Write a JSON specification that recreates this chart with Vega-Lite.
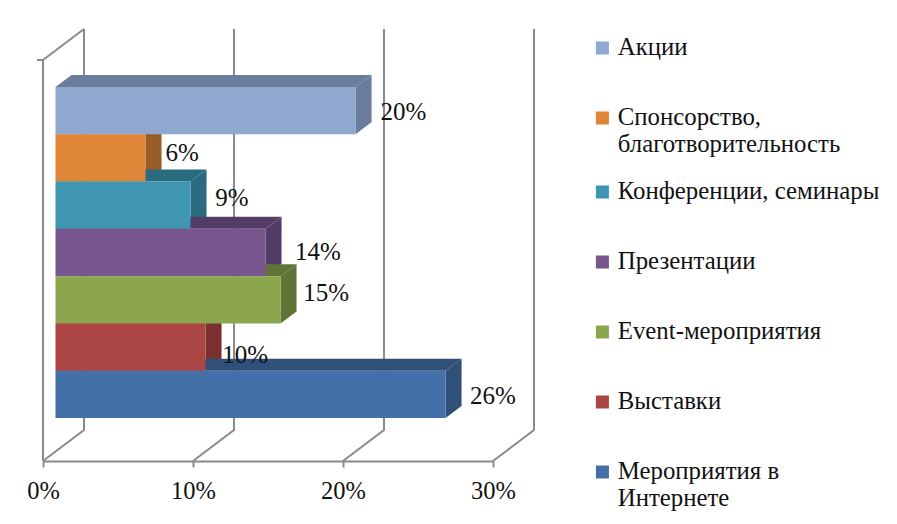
{
"$schema":"https://vega.github.io/schema/vega-lite/v6.json",
"width":450,"height":432,
"autosize":{"type":"none"},
"padding":{"left":43,"top":29,"right":404,"bottom":63},
"background":"white",
"config":{"view":{"stroke":null},"text":{"font":"Liberation Serif"}},
"datasets":{
"bars":[
{"category":"Акции","value":20,"slot":6,"slotEnd":7,"label":"20%","labelX":24.03,"labelY":6.47},
{"category":"Спонсорство, благотворительность","value":6,"slot":5,"slotEnd":6,"label":"6%","labelX":9.27,"labelY":5.6},
{"category":"Конференции, семинары","value":9,"slot":4,"slotEnd":5,"label":"9%","labelX":12.6,"labelY":4.65},
{"category":"Презентации","value":14,"slot":3,"slotEnd":4,"label":"14%","labelX":18.33,"labelY":3.5},
{"category":"Event-мероприятия","value":15,"slot":2,"slotEnd":3,"label":"15%","labelX":18.87,"labelY":2.65},
{"category":"Выставки","value":10,"slot":1,"slotEnd":2,"label":"10%","labelX":13.47,"labelY":1.33},
{"category":"Мероприятия в Интернете","value":26,"slot":0,"slotEnd":1,"label":"26%","labelX":30,"labelY":0.46}
],
"sides":[
{"category":"Акции","x":20,"y":6,"y2":7},{"category":"Акции","x":21.07,"y":6.254,"y2":7.254},
{"category":"Спонсорство, благотворительность","x":6,"y":5,"y2":6},{"category":"Спонсорство, благотворительность","x":7.07,"y":5.254,"y2":6.254},
{"category":"Конференции, семинары","x":9,"y":4,"y2":5},{"category":"Конференции, семинары","x":10.07,"y":4.254,"y2":5.254},
{"category":"Презентации","x":14,"y":3,"y2":4},{"category":"Презентации","x":15.07,"y":3.254,"y2":4.254},
{"category":"Event-мероприятия","x":15,"y":2,"y2":3},{"category":"Event-мероприятия","x":16.07,"y":2.254,"y2":3.254},
{"category":"Выставки","x":10,"y":1,"y2":2},{"category":"Выставки","x":11.07,"y":1.254,"y2":2.254},
{"category":"Мероприятия в Интернете","x":26,"y":0,"y2":1},{"category":"Мероприятия в Интернете","x":27.07,"y":0.254,"y2":1.254}
],
"tops":[
{"category":"Акции","y":7,"x":0,"x2":20},{"category":"Акции","y":7.254,"x":1.07,"x2":21.07},
{"category":"Спонсорство, благотворительность","y":6,"x":0,"x2":6},{"category":"Спонсорство, благотворительность","y":6.254,"x":1.07,"x2":7.07},
{"category":"Конференции, семинары","y":5,"x":0,"x2":9},{"category":"Конференции, семинары","y":5.254,"x":1.07,"x2":10.07},
{"category":"Презентации","y":4,"x":0,"x2":14},{"category":"Презентации","y":4.254,"x":1.07,"x2":15.07},
{"category":"Event-мероприятия","y":3,"x":0,"x2":15},{"category":"Event-мероприятия","y":3.254,"x":1.07,"x2":16.07},
{"category":"Выставки","y":2,"x":0,"x2":10},{"category":"Выставки","y":2.254,"x":1.07,"x2":11.07},
{"category":"Мероприятия в Интернете","y":1,"x":0,"x2":26},{"category":"Мероприятия в Интернете","y":1.254,"x":1.07,"x2":27.07}
],
"frame":[
{"line":"g0","step":1,"x":0,"y":-0.909},{"line":"g0","step":2,"x":2.733,"y":-0.254},{"line":"g0","step":3,"x":2.733,"y":8.226},
{"line":"g10","step":1,"x":10,"y":-0.909},{"line":"g10","step":2,"x":12.733,"y":-0.254},{"line":"g10","step":3,"x":12.733,"y":8.226},
{"line":"g20","step":1,"x":20,"y":-0.909},{"line":"g20","step":2,"x":22.733,"y":-0.254},{"line":"g20","step":3,"x":22.733,"y":8.226},
{"line":"g30","step":1,"x":30,"y":-0.909},{"line":"g30","step":2,"x":32.733,"y":-0.254},{"line":"g30","step":3,"x":32.733,"y":8.226},
{"line":"left","step":1,"x":0,"y":-0.909},{"line":"left","step":2,"x":0,"y":7.57},{"line":"left","step":3,"x":-0.4,"y":7.57},
{"line":"wall","step":1,"x":0,"y":7.57},{"line":"wall","step":2,"x":2.733,"y":8.226}
]
},
"layer":[
{"data":{"name":"frame"},"mark":{"type":"line","color":"#8a8a8a","strokeWidth":2},
 "encoding":{"x":{"field":"x","type":"quantitative","scale":{"domain":[0,30],"nice":false,"zero":false},
   "axis":{"values":[0,10,20,30],"labelExpr":"datum.value + '%'","title":null,"grid":false,"domainColor":"#8a8a8a","domainWidth":2,"tickColor":"#8a8a8a","tickWidth":2,"tickSize":6,"labelFont":"Liberation Serif","labelFontSize":24.5,"labelColor":"#111111","labelPadding":12,"labelFlush":false,"labelBound":false,"labelOverlap":false}},
  "y":{"field":"y","type":"quantitative","scale":{"domain":[-0.909,8.226],"nice":false,"zero":false},"axis":null},
  "detail":{"field":"line"},"order":{"field":"step"}}},
{"data":{"name":"sides"},"mark":{"type":"area","orient":"vertical","xOffset":12.5,"x2Offset":12.5},
 "encoding":{"x":{"field":"x","type":"quantitative"},"y":{"field":"y","type":"quantitative"},"y2":{"field":"y2"},
  "color":{"field":"category","type":"nominal","legend":null,"scale":{"domain":["Акции","Спонсорство, благотворительность","Конференции, семинары","Презентации","Event-мероприятия","Выставки","Мероприятия в Интернете"],"range":["#6B7C9F","#995C28","#2A6B80","#533D68","#5F7435","#7B302F","#2F5078"]}}}},
{"data":{"name":"tops"},"mark":{"type":"area","orient":"horizontal","xOffset":12.5,"x2Offset":12.5},
 "encoding":{"x":{"field":"x","type":"quantitative"},"x2":{"field":"x2"},"y":{"field":"y","type":"quantitative"},
  "color":{"field":"category","type":"nominal","legend":null,"scale":{"domain":["Акции","Спонсорство, благотворительность","Конференции, семинары","Презентации","Event-мероприятия","Выставки","Мероприятия в Интернете"],"range":["#6B7C9F","#995C28","#2A6B80","#533D68","#5F7435","#7B302F","#2F5078"]}}}},
{"data":{"name":"bars"},"transform":[{"calculate":"0","as":"base"}],"mark":{"type":"rect","xOffset":12.5,"x2Offset":12.5},
 "encoding":{"x":{"field":"base","type":"quantitative"},"x2":{"field":"value"},"y":{"field":"slot","type":"quantitative"},"y2":{"field":"slotEnd"},
  "color":{"field":"category","type":"nominal","title":null,
   "scale":{"domain":["Акции","Спонсорство, благотворительность","Конференции, семинары","Презентации","Event-мероприятия","Выставки","Мероприятия в Интернете"],"range":["#8FA8D0","#DF8538","#3E96B1","#78578E","#8BA64D","#AC4644","#4370A8"]},
   "legend":{"orient":"none","legendX":547,"legendY":-16,"symbolType":"square","symbolSize":170,"symbolStrokeWidth":0,"labelFont":"Liberation Serif","labelFontSize":24.8,"labelColor":"#111111","labelLimit":400,"clipHeight":70,"rowPadding":0,"symbolOpacity":1,"labelOffset":3,
    "labelExpr":"datum.label == 'Спонсорство, благотворительность' ? ['Спонсорство,','благотворительность'] : datum.label == 'Мероприятия в Интернете' ? ['Мероприятия в','Интернете'] : datum.label"}}}},
{"data":{"name":"bars"},"mark":{"type":"text","font":"Liberation Serif","fontSize":25,"color":"#111111"},
 "encoding":{"x":{"field":"labelX","type":"quantitative"},"y":{"field":"labelY","type":"quantitative"},"text":{"field":"label"}}}
],
"resolve":{"scale":{"color":"independent"}}
}
